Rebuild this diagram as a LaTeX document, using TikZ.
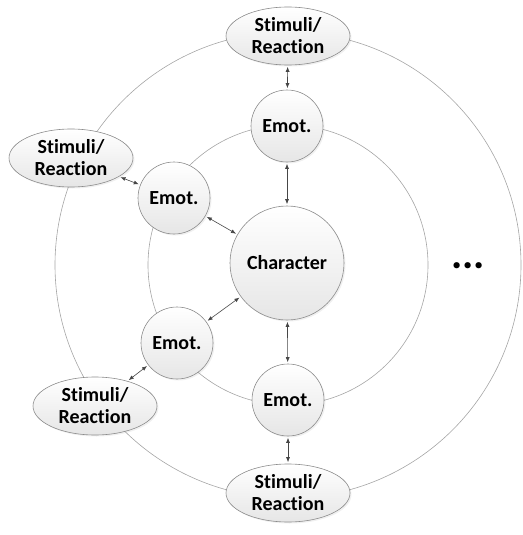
\documentclass[tikz,border=0pt]{standalone}
\usepackage{fontspec}
\setmainfont[Ligatures=NoCommon]{Carlito}
\usepackage{xcolor}
\definecolor{ringgray}{RGB}{165,165,165}
\definecolor{nodegray}{RGB}{140,140,140}
\definecolor{arrowgray}{RGB}{70,70,70}
\definecolor{fillgray}{RGB}{230,230,230}
\usetikzlibrary{arrows.meta, shapes.geometric, shadows}

\tikzset{
  ring/.style={ringgray, line width=0.6pt},
  bubble/.style={circle, draw=nodegray, line width=0.6pt, top color=white, bottom color=fillgray,
    drop shadow={opacity=0.12, shadow xshift=1.5pt, shadow yshift=-1.5pt},
    font=\bfseries\fontsize{20}{22}\selectfont, inner sep=0pt},
  emot/.style={bubble, minimum size=72pt},
  core/.style={bubble, minimum size=114pt},
  stim/.style={bubble, ellipse, minimum width=124pt, minimum height=58pt, align=center},
  link/.style={arrowgray, line width=0.6pt, {Latex[length=5pt,width=4pt]}-{Latex[length=5pt,width=4pt]},
    shorten >=1.5pt, shorten <=1.5pt}
}

\begin{document}
\begin{tikzpicture}[x=1pt,y=-1pt]
  \useasboundingbox (0,0) rectangle (522,535);

  % Rings
  \draw[ring] (288,265) circle (140pt);
  \draw[ring] (288,265) circle (233pt);

  % Centre
  \node[core] (char) at (287,263) {Character};

  % Emotions on the inner ring
  \node[emot] (emT)  at (287,126) {Emot.};
  \node[emot] (emUL) at (174,198) {Emot.};
  \node[emot] (emLL) at (177,343) {Emot.};
  \node[emot] (emB)  at (288,400) {Emot.};

  % Stimuli on the outer ring
  \node[stim] (stT)  at (288,36)  {Stimuli/\\Reaction};
  \node[stim] (stL)  at (71,158)  {Stimuli/\\Reaction};
  \node[stim] (stBL) at (95,406)  {Stimuli/\\Reaction};
  \node[stim] (stB)  at (288,493) {Stimuli/\\Reaction};

  % Links
  \draw[link] (emT)  -- (char);
  \draw[link] (emUL) -- (char);
  \draw[link] (emLL) -- (char);
  \draw[link] (emB)  -- (char);
  \draw[link] (stT)  -- (emT);
  \draw[link] (stL)  -- (emUL);
  \draw[link] (stBL) -- (emLL);
  \draw[link] (stB)  -- (emB);

  % More
  \node[font=\bfseries\fontsize{42}{44}\selectfont] (more) at (468,266) {...};
\end{tikzpicture}
\end{document}
